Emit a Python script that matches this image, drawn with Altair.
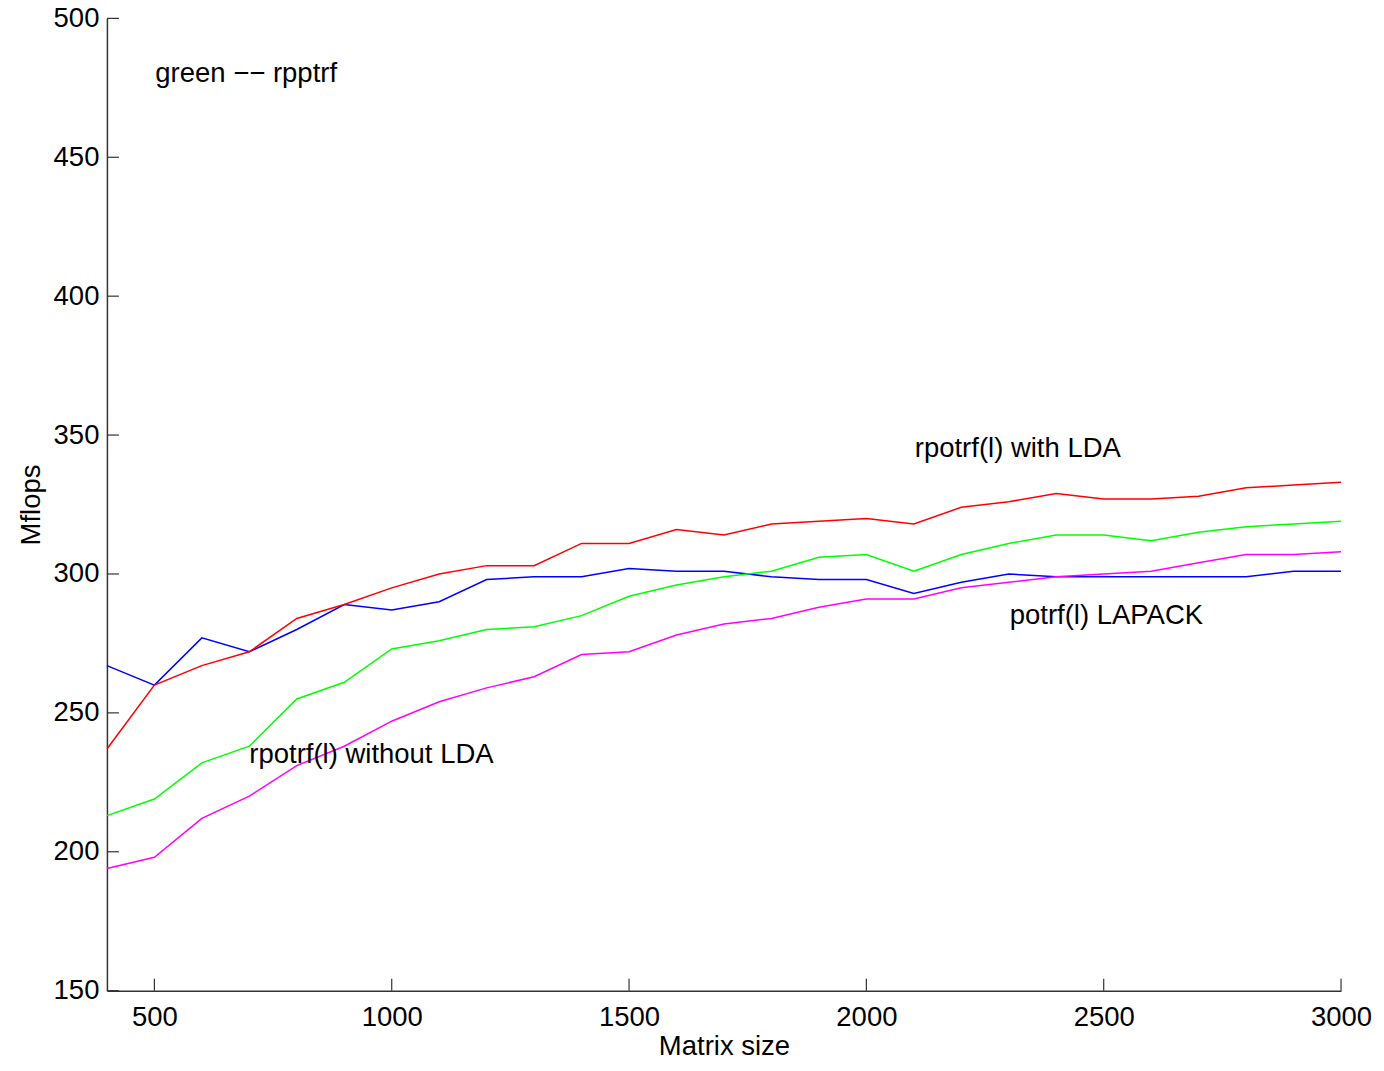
import altair as alt
import pandas as pd

sizes = list(range(400, 3001, 100))

red_with_lda = [237, 260, 267, 272, 284, 289, 295, 300, 303, 303, 311, 311, 316, 314,
                318, 319, 320, 318, 324, 326, 329, 327, 327, 328, 331, 332, 333]
blue_lapack = [267, 260, 277, 272, 280, 289, 287, 290, 298, 299, 299, 302, 301, 301,
               299, 298, 298, 293, 297, 300, 299, 299, 299, 299, 299, 301, 301]
green_rpptrf = [213, 219, 232, 238, 255, 261, 273, 276, 280, 281, 285, 292, 296, 299,
                301, 306, 307, 301, 307, 311, 314, 314, 312, 315, 317, 318, 319]
magenta_without = [194, 198, 212, 220, 231, 238, 247, 254, 259, 263, 271, 272, 278, 282,
                   284, 288, 291, 291, 295, 297, 299, 300, 301, 304, 307, 307, 308]

series_names = ["potrf(l) LAPACK", "rpotrf(l) with LDA", "rpptrf", "rpotrf(l) without LDA"]
series_colors = ["#0000ff", "#ff0000", "#00ff00", "#ff00ff"]
series_values = [blue_lapack, red_with_lda, green_rpptrf, magenta_without]

x_ticks = [500, 1000, 1500, 2000, 2500, 3000]
y_ticks = [150, 200, 250, 300, 350, 400, 450, 500]

label_texts = ["green \u2212\u2212 rpptrf", "rpotrf(l) with LDA", "potrf(l) LAPACK", "rpotrf(l) without LDA"]
label_x = [502, 2102, 2302, 700]
label_y = [480, 345, 285, 235]

rows = []
for name, vals in zip(series_names, series_values):
    for s, v in zip(sizes, vals):
        rows.append({"size": s, "mflops": v, "series": name})
df = pd.DataFrame(rows)

labels_df = pd.DataFrame({"size": label_x, "mflops": label_y, "text": label_texts})
xt_df = pd.DataFrame({"size": x_ticks})
yt_df = pd.DataFrame({"mflops": y_ticks})

W, H = 1235, 973
FONT = "Liberation Sans"
FS = 27.5

xscale = alt.Scale(domain=[400, 3000], nice=False, zero=False)
yscale = alt.Scale(domain=[150, 500], nice=False, zero=False)

x_axis = alt.Axis(values=x_ticks, title="Matrix size", ticks=False, grid=False,
                  labelPadding=13, titlePadding=1, format="d", labelFlush=False)
y_axis = alt.Axis(values=y_ticks, title="Mflops", ticks=False, grid=False,
                  labelPadding=8, titlePadding=8, format="d", labelFlush=False)

lines = alt.Chart(df).mark_line(strokeWidth=1.5).encode(
    x=alt.X("size:Q", scale=xscale, axis=x_axis),
    y=alt.Y("mflops:Q", scale=yscale, axis=y_axis),
    color=alt.Color("series:N", scale=alt.Scale(domain=series_names, range=series_colors),
                    legend=None),
)

texts = alt.Chart(labels_df).mark_text(align="left", baseline="middle", font=FONT,
                                       fontSize=FS, color="black").encode(
    x=alt.X("size:Q", scale=xscale, axis=x_axis),
    y=alt.Y("mflops:Q", scale=yscale, axis=y_axis),
    text="text:N",
)

xticks = alt.Chart(xt_df).mark_rule(color="#333333", strokeWidth=1.2).encode(
    x=alt.X("size:Q", scale=xscale, axis=x_axis),
    y=alt.value(H),
    y2=alt.value(H - 12),
)

yticks = alt.Chart(yt_df).mark_rule(color="#333333", strokeWidth=1.2).encode(
    y=alt.Y("mflops:Q", scale=yscale, axis=y_axis),
    x=alt.value(0),
    x2=alt.value(12),
)

chart = alt.layer(lines, xticks, yticks, texts).properties(
    width=W, height=H,
    padding={"left": 99, "top": 10, "right": 35, "bottom": 66},
    autosize=alt.AutoSizeParams(type="none"),
    background="white",
).configure_view(strokeWidth=0, strokeOpacity=0).configure_axis(
    domainColor="#333333", domainWidth=1.5,
    labelFont=FONT, labelFontSize=FS, labelColor="black",
    titleFont=FONT, titleFontSize=FS, titleColor="black", titleFontWeight="normal",
)

chart.save("out.html", embed_options={"renderer": "svg", "actions": False})
